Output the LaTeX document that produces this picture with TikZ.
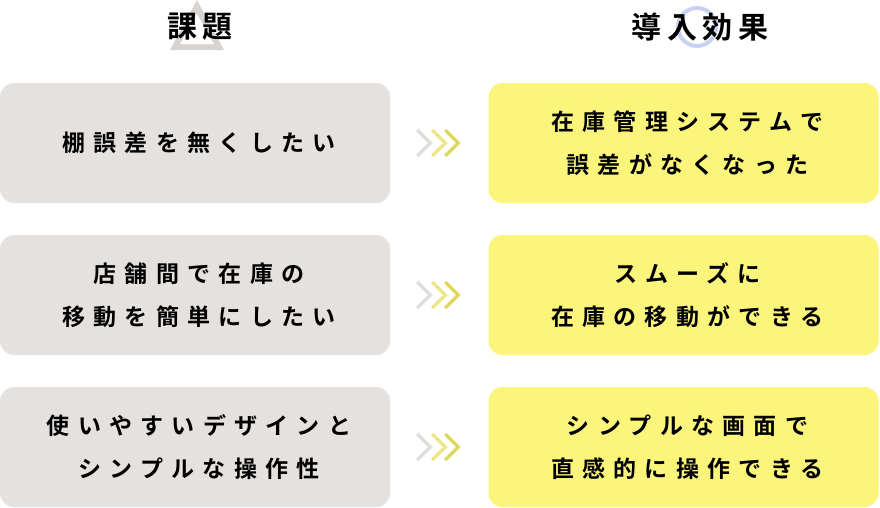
\documentclass[tikz,border=0pt]{standalone}
\usepackage{fontspec}
\setmainfont{Noto Sans CJK JP}[BoldFont={Noto Sans CJK JP Bold}]
\newfontfamily\boxfont{Noto Sans CJK JP Bold}[LetterSpace=36]
\newfontfamily\headfont{Noto Sans CJK JP Bold}[LetterSpace=18]
\usetikzlibrary{positioning,calc}
\definecolor{issuegray}{HTML}{E5E1DE}
\definecolor{effectyellow}{HTML}{FBF57C}
\definecolor{chevgray}{HTML}{E0DDDA}
\definecolor{chevlight}{HTML}{EDE68A}
\definecolor{chevdark}{HTML}{DED95A}
\definecolor{ringblue}{HTML}{C9D1F2}
\definecolor{trigray}{HTML}{D6D3D0}
\newcommand{\chevrons}[1]{%
  \foreach \dx/\col in {0/chevgray,15/chevlight,28/chevdark}
    \draw[\col,line width=3.5pt] ($(#1)+(\dx pt-22pt,-13pt)$) -- ++(13pt,13pt) -- ++(-13pt,13pt);}
\begin{document}
\begin{tikzpicture}[x=1pt,y=-1pt,
    issue box/.style={fill=issuegray,rounded corners=14pt,minimum width=390pt,minimum height=120pt,
      align=center,font=\boxfont\fontsize{23}{43}\selectfont,inner sep=0pt},
    effect box/.style={issue box,fill=effectyellow},
    head/.style={font=\headfont\fontsize{30}{34}\selectfont}]
  \useasboundingbox (0,0) rectangle (880,507);
  % headers
  \fill[trigray] (197,0) -- (224,50) -- (170,50) -- cycle;
  \fill[white] (197,14) -- (214,44) -- (180,44) -- cycle;
  \draw[ringblue,line width=4pt] (697,27) circle (19);
  \node[head] (issues) at (200,27) {課題};
  \node[head] (effects) at (700,27) {導入効果};
  % rows
  \node[issue box] (i1) at (195,143) {\hspace{8pt}棚誤差を無くしたい};
  \node[issue box] (i2) at (195,295) {\hspace{8pt}店舗間で在庫の\\\hspace{8pt}移動を簡単にしたい};
  \node[issue box] (i3) at (195,447) {\hspace{8pt}使いやすいデザインと\\\hspace{8pt}シンプルな操作性};
  \node[effect box] (e1) at (683.5,143) {\hspace{8pt}在庫管理システムで\\\hspace{8pt}誤差がなくなった};
  \node[effect box] (e2) at (683.5,295) {\hspace{8pt}スムーズに\\\hspace{8pt}在庫の移動ができる};
  \node[effect box] (e3) at (683.5,447) {\hspace{8pt}シンプルな画面で\\\hspace{8pt}直感的に操作できる};
  \foreach \r in {1,2,3}
    \coordinate (a\r) at ($(i\r.east)!0.5!(e\r.west)$);
  \chevrons{a1}
  \chevrons{a2}
  \chevrons{a3}
\end{tikzpicture}
\end{document}
